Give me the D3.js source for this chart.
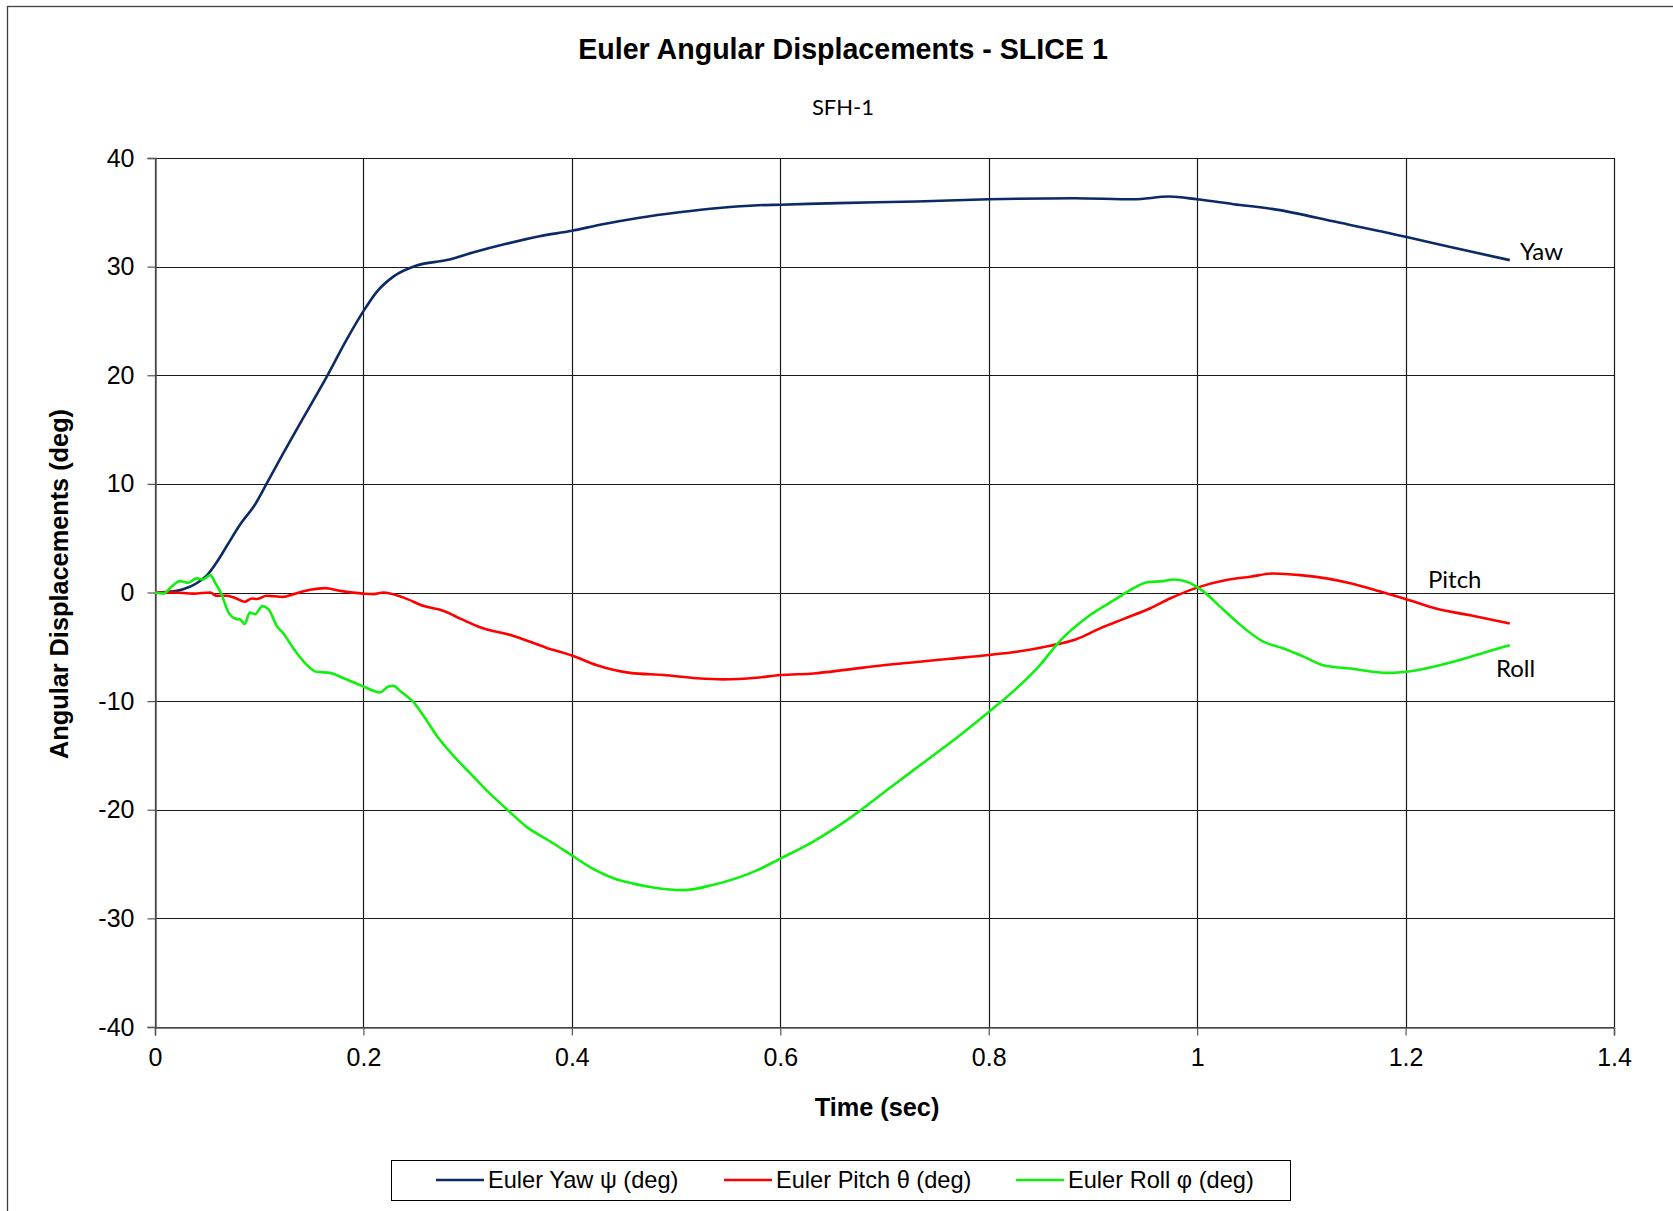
<!DOCTYPE html>
<html><head><meta charset="utf-8">
<script src="https://cdn.jsdelivr.net/npm/d3@7"></script>
<style>body{margin:0;background:#fff}svg{display:block}</style>
</head><body>
<svg id="chart" width="1673" height="1211"></svg>
<script>
const xTicks = [0, 0.2, 0.4, 0.6, 0.8, 1, 1.2, 1.4];
const yTicks = [-40, -30, -20, -10, 0, 10, 20, 30, 40];

const yawT = [0, 0.018, 0.027, 0.040, 0.050, 0.060, 0.069, 0.082, 0.096, 0.107, 0.123, 0.146, 0.165, 0.184, 0.200, 0.213, 0.229, 0.251, 0.280, 0.305, 0.337, 0.369, 0.400, 0.427, 0.465, 0.503, 0.541, 0.579, 0.600, 0.655, 0.731, 0.800, 0.882, 0.939, 0.973, 1.000, 1.035, 1.076, 1.134, 1.200, 1.243, 1.300];
const yawV = [0, 0.1, 0.3, 0.85, 1.6, 2.9, 4.3, 6.3, 8.1, 10.0, 12.8, 16.7, 19.9, 23.3, 25.9, 27.7, 29.1, 30.1, 30.6, 31.3, 32.1, 32.8, 33.3, 33.85, 34.5, 35.0, 35.4, 35.65, 35.7, 35.85, 36.0, 36.2, 36.3, 36.2, 36.45, 36.2, 35.75, 35.25, 34.1, 32.75, 31.8, 30.6];

const pitchT = [0, 0.018, 0.037, 0.053, 0.059, 0.069, 0.078, 0.086, 0.093, 0.098, 0.107, 0.123, 0.133, 0.149, 0.163, 0.178, 0.200, 0.210, 0.219, 0.238, 0.258, 0.277, 0.293, 0.312, 0.344, 0.376, 0.400, 0.424, 0.456, 0.488, 0.520, 0.545, 0.577, 0.600, 0.632, 0.664, 0.699, 0.731, 0.763, 0.800, 0.827, 0.859, 0.884, 0.907, 0.929, 0.955, 0.974, 1.000, 1.028, 1.051, 1.073, 1.099, 1.124, 1.147, 1.179, 1.200, 1.230, 1.262, 1.300];
const pitchV = [0, 0, -0.1, 0, -0.3, -0.3, -0.55, -0.85, -0.55, -0.6, -0.3, -0.4, -0.15, 0.25, 0.4, 0.15, -0.1, -0.15, 0, -0.45, -1.25, -1.7, -2.4, -3.2, -4.0, -5.1, -5.8, -6.7, -7.4, -7.6, -7.9, -8.0, -7.85, -7.6, -7.45, -7.1, -6.7, -6.4, -6.1, -5.75, -5.45, -4.9, -4.3, -3.3, -2.45, -1.45, -0.55, 0.45, 1.15, 1.45, 1.75, 1.6, 1.3, 0.85, 0, -0.6, -1.5, -2.1, -2.85];

const rollT = [0, 0.008, 0.016, 0.024, 0.032, 0.040, 0.046, 0.053, 0.058, 0.064, 0.070, 0.077, 0.082, 0.086, 0.091, 0.096, 0.103, 0.109, 0.117, 0.123, 0.134, 0.146, 0.155, 0.168, 0.181, 0.200, 0.216, 0.224, 0.229, 0.235, 0.248, 0.258, 0.272, 0.290, 0.302, 0.318, 0.337, 0.357, 0.379, 0.400, 0.417, 0.440, 0.459, 0.478, 0.507, 0.536, 0.577, 0.600, 0.632, 0.664, 0.705, 0.737, 0.769, 0.800, 0.827, 0.849, 0.868, 0.897, 0.923, 0.939, 0.952, 0.968, 0.977, 0.990, 1.006, 1.022, 1.038, 1.063, 1.083, 1.102, 1.121, 1.147, 1.183, 1.211, 1.243, 1.275, 1.300];
const rollV = [0, -0.1, 0.55, 1.05, 0.9, 1.3, 1.2, 1.6, 0.85, -0.2, -1.75, -2.4, -2.5, -2.9, -1.85, -2.0, -1.25, -1.55, -3.1, -3.75, -5.3, -6.7, -7.3, -7.4, -7.9, -8.65, -9.2, -8.65, -8.6, -9.05, -10.1, -11.4, -13.4, -15.4, -16.6, -18.2, -19.9, -21.6, -22.9, -24.2, -25.25, -26.3, -26.8, -27.15, -27.4, -26.9, -25.6, -24.5, -22.9, -20.95, -18.0, -15.7, -13.4, -11.0, -8.8, -6.7, -4.5, -2.1, -0.55, 0.4, 0.95, 1.05, 1.2, 1.0, 0.1, -1.3, -2.7, -4.5, -5.15, -5.9, -6.7, -7.0, -7.4, -7.15, -6.45, -5.55, -4.85];

const seriesNames = ["Euler Yaw ψ (deg)", "Euler Pitch θ (deg)", "Euler Roll φ (deg)"];
const seriesLabels = ["Yaw", "Pitch", "Roll"];
const seriesColors = ["#0c2a66", "#ff0000", "#0ff00f"];

const svg = d3.select("#chart");
const arial = "'Liberation Sans', Arial, sans-serif";
const calibri = "Lato, 'Open Sans', sans-serif";

// outer frame
svg.append("rect").attr("x", 7.5).attr("y", 6.5).attr("width", 1800).attr("height", 1400)
  .attr("fill", "none").attr("stroke", "#404040").attr("stroke-width", 1.3);

const x0 = 155, x1 = 1614, y0 = 158, y1 = 1027;
const x = d3.scaleLinear().domain([0, 1.4]).range([x0, x1]);
const y = d3.scaleLinear().domain([-40, 40]).range([y1, y0]);

// gridlines
const grid = svg.append("g");
grid.selectAll("line.v").data(xTicks).join("line")
  .attr("x1", d => Math.round(x(d)) + 0.5).attr("x2", d => Math.round(x(d)) + 0.5)
  .attr("y1", y0).attr("y2", y1).attr("stroke", "#1a1a1a").attr("stroke-width", 1.2);
grid.selectAll("line.h").data(yTicks).join("line")
  .attr("y1", d => Math.round(y(d)) + 0.5).attr("y2", d => Math.round(y(d)) + 0.5)
  .attr("x1", x0).attr("x2", x1).attr("stroke", "#1a1a1a").attr("stroke-width", 1.2);

// axes
const fmt = d => String(d);
const xAxis = svg.append("g").attr("transform", `translate(0,${Math.round(y(-40)) + 0.5})`)
  .call(d3.axisBottom(x).tickValues(xTicks).tickFormat(fmt).tickSize(8).tickPadding(13));
const yAxis = svg.append("g").attr("transform", `translate(${Math.round(x0) + 0.5},0)`)
  .call(d3.axisLeft(y).tickValues(yTicks).tickFormat(fmt).tickSize(8).tickPadding(13));
[xAxis, yAxis].forEach(a => {
  a.select(".domain").attr("stroke", "#555").attr("stroke-width", 1.5);
  a.selectAll(".tick line").attr("stroke", "#555").attr("stroke-width", 1.2);
  a.selectAll(".tick text").attr("font-family", arial).attr("font-size", 25).attr("fill", "#000");
});

// lines
const series = [[yawT, yawV], [pitchT, pitchV], [rollT, rollV]];
const line = d3.line().x(d => x(d[0])).y(d => y(d[1])).curve(d3.curveMonotoneX);
series.forEach((s, i) => {
  const pts = s[0].map((t, j) => [t, s[1][j]]);
  svg.append("path").datum(pts).attr("d", line).attr("fill", "none")
    .attr("stroke", seriesColors[i]).attr("stroke-width", 2.6).attr("stroke-linejoin", "round");
});

// in-chart labels
const labelPos = [[1520, 260], [1428, 588], [1496, 677]];
seriesLabels.forEach((l, i) => {
  svg.append("text").attr("x", labelPos[i][0]).attr("y", labelPos[i][1]).text(l)
    .attr("font-family", calibri).attr("font-size", 24).attr("fill", "#000");
});

// titles
svg.append("text").attr("x", 843).attr("y", 59).attr("text-anchor", "middle")
  .attr("font-family", arial).attr("font-weight", "bold").attr("font-size", 28.6)
  .text("Euler Angular Displacements - SLICE 1");
svg.append("text").attr("x", 843).attr("y", 115).attr("text-anchor", "middle")
  .attr("font-family", calibri).attr("font-size", 22).text("SFH-1");
svg.append("text").attr("x", 877).attr("y", 1116).attr("text-anchor", "middle")
  .attr("font-family", arial).attr("font-weight", "bold").attr("font-size", 25.3).text("Time (sec)");
svg.append("text").attr("transform", "translate(68,584) rotate(-90)").attr("text-anchor", "middle")
  .attr("font-family", arial).attr("font-weight", "bold").attr("font-size", 25.3).text("Angular Displacements (deg)");

// legend
const lg = svg.append("g");
lg.append("rect").attr("x", 391.5).attr("y", 1160.5).attr("width", 899).attr("height", 40)
  .attr("fill", "#fff").attr("stroke", "#000").attr("stroke-width", 1);
const legX = [436, 724, 1016];
seriesNames.forEach((n, i) => {
  lg.append("line").attr("x1", legX[i]).attr("x2", legX[i] + 48).attr("y1", 1180).attr("y2", 1180)
    .attr("stroke", seriesColors[i]).attr("stroke-width", 2.6);
  lg.append("text").attr("x", legX[i] + 52).attr("y", 1188).text(n)
    .attr("font-family", arial).attr("font-size", 23.6).attr("fill", "#000");
});
</script>
</body></html>
